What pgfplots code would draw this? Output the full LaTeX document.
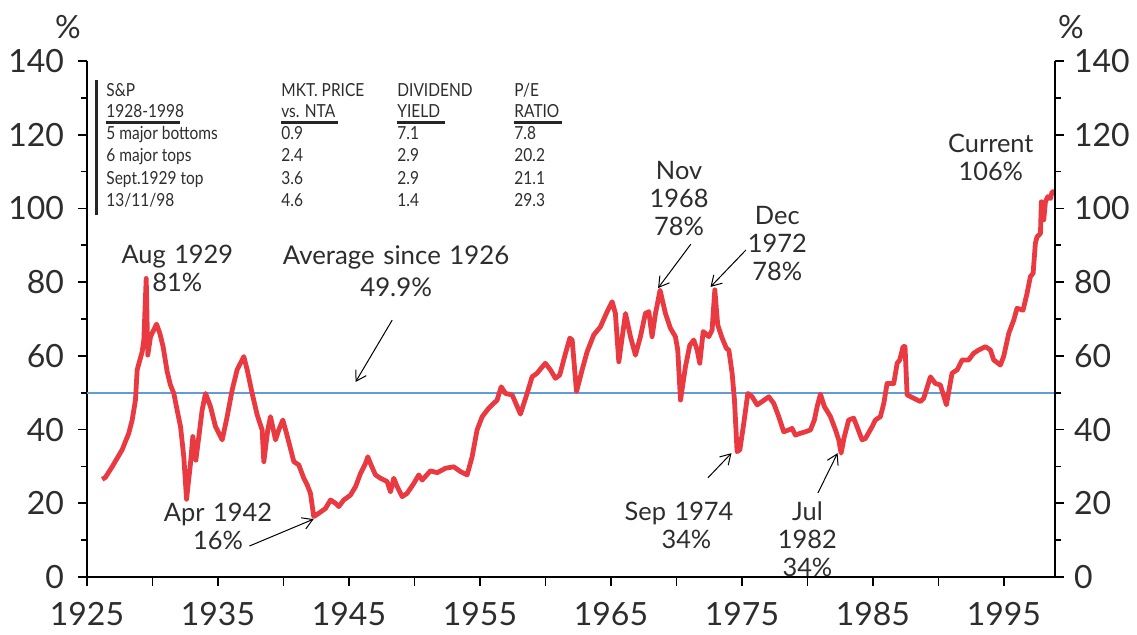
\documentclass[border=0pt]{standalone}
\usepackage{fontspec}
\setmainfont{Lato}
\newfontfamily\tabfont{Lato}[FakeStretch=0.86]
\usepackage{pgfplots}
\usetikzlibrary{arrows.meta}
\pgfplotsset{compat=1.18}
\definecolor{redline}{RGB}{233,58,66}
\definecolor{blueline}{RGB}{98,156,214}
\definecolor{txt}{RGB}{45,45,45}
\newcommand\ticklab{\fontsize{16}{19}\selectfont}
\newcommand\annfont{\fontsize{12.7}{14}\selectfont}
\begin{document}
\begin{tikzpicture}
\begin{axis}[
  at={(0,0)}, anchor=south west,
  scale only axis, width=484pt, height=258pt,
  xmin=1925, xmax=1998.9, ymin=0, ymax=140,
  axis x line*=bottom, axis y line*=left,
  axis line style={line width=1pt, -},
  xtick={1925,1935,...,1995},
  extra x ticks={1930,1940,...,1990}, extra x tick labels={},
  ytick={0,20,...,140}, minor ytick={10,30,...,130},
  tick align=outside, major tick length=4.5pt, minor tick length=3pt,
  every tick/.style={line width=0.9pt, black},
  /pgf/number format/.cd, 1000 sep={}, assume math mode=true, /pgfplots/.cd,
  tick label style={font=\ticklab, text=txt},
  x tick label style={yshift=-4.5pt},
  y tick label style={xshift=-3.5pt},
  clip=false,
]
\addplot[blueline, line width=1pt] coordinates {(1925,49.9) (1998.9,49.9)};
\addplot[redline, line width=2.4pt, line join=round] coordinates {
(1926.16,26.5) (1926.40,27.0) (1926.92,29.9) (1927.68,34.5) (1928.19,39.0) (1928.45,42.6)
(1928.70,48.0) (1928.83,56.2) (1929.21,61.1) (1929.34,64.3) (1929.52,81.0) (1929.64,60.2)
(1929.85,65.2) (1930.31,68.6) (1930.56,66.1) (1930.81,62.5) (1931.12,55.7) (1931.37,52.1)
(1931.63,49.8) (1931.88,45.3) (1932.14,40.8) (1932.39,32.6) (1932.60,21.1) (1932.90,30.8)
(1933.08,38.1) (1933.31,31.7) (1933.54,38.1) (1933.79,45.3) (1934.05,49.8) (1934.43,46.2)
(1934.81,40.8) (1935.32,37.2) (1935.70,43.5) (1936.08,50.7) (1936.46,56.2) (1936.97,59.8)
(1937.23,56.2) (1937.61,49.8) (1937.99,44.0) (1938.37,39.9) (1938.50,31.3) (1938.80,39.9)
(1939.01,43.5) (1939.39,37.2) (1939.64,39.9) (1939.95,42.6) (1940.23,39.0) (1940.53,34.9)
(1940.79,31.3) (1941.17,30.4) (1941.55,26.8) (1941.81,25.0) (1942.06,22.7) (1942.31,16.4)
(1942.70,17.3) (1943.21,18.6) (1943.59,20.9) (1943.97,20.0) (1944.22,19.1) (1944.60,20.9)
(1945.11,22.2) (1945.50,24.5) (1945.88,28.1) (1946.26,30.8) (1946.44,32.6) (1946.64,30.8)
(1947.02,27.7) (1947.40,26.8) (1947.91,25.9) (1948.17,23.1) (1948.42,26.8) (1948.68,24.5)
(1949.06,21.8) (1949.44,22.7) (1949.95,25.4) (1950.33,27.7) (1950.59,26.3) (1951.22,28.8)
(1951.73,28.3) (1952.37,29.5) (1953.00,29.9) (1953.51,28.6) (1954.02,27.7) (1954.40,32.6)
(1954.78,39.9) (1955.17,43.5) (1955.67,45.8) (1956.31,48.0) (1956.62,51.6) (1956.95,49.8)
(1957.46,49.4) (1958.09,44.2) (1958.60,49.8) (1958.98,54.3) (1959.36,55.3) (1959.99,58.0)
(1960.38,56.2) (1960.76,53.9) (1961.09,54.8) (1961.53,60.7) (1961.86,64.8) (1962.04,64.3)
(1962.37,50.3) (1962.80,56.2) (1963.18,61.1) (1963.69,65.7) (1964.20,67.9) (1964.71,72.0)
(1965.09,74.7) (1965.34,71.5) (1965.60,58.4) (1966.11,71.5) (1966.49,65.2) (1966.87,60.2)
(1967.25,65.2) (1967.63,71.5) (1967.89,72.0) (1968.14,65.2) (1968.40,71.5) (1968.75,77.8)
(1969.16,71.5) (1969.54,67.5) (1969.92,65.2) (1970.10,61.6) (1970.31,48.0) (1970.69,57.1)
(1971.02,62.9) (1971.32,64.3) (1971.58,61.6) (1971.78,58.0) (1972.04,66.6) (1972.21,66.1)
(1972.47,65.2) (1972.72,67.0) (1972.93,77.9) (1973.15,68.4) (1973.49,64.8) (1973.82,62.0)
(1974.00,61.6) (1974.25,55.3) (1974.43,48.0) (1974.63,34.0) (1974.84,34.5) (1975.14,41.7)
(1975.45,49.8) (1975.78,48.9) (1976.16,46.7) (1976.54,47.6) (1977.05,48.9) (1977.43,47.1)
(1977.81,43.5) (1978.19,39.4) (1978.57,39.9) (1978.83,40.3) (1979.08,38.5) (1979.47,39.0)
(1979.85,39.4) (1980.23,39.9) (1980.53,42.6) (1980.74,46.2) (1980.99,49.6) (1981.30,46.2)
(1981.76,43.5) (1982.14,39.9) (1982.39,37.2) (1982.57,33.6) (1982.82,38.1) (1983.15,42.6)
(1983.53,43.1) (1983.84,40.3) (1984.17,37.2) (1984.43,37.6) (1984.94,40.8) (1985.19,42.6)
(1985.57,43.5) (1985.83,47.1) (1986.08,52.5) (1986.59,52.5) (1986.85,58.0) (1987.05,58.9)
(1987.30,62.5) (1987.45,62.5) (1987.61,49.4) (1988.11,48.5) (1988.63,47.6) (1988.88,48.5)
(1989.39,54.3) (1989.77,52.5) (1990.15,52.1) (1990.61,46.7) (1991.04,55.3) (1991.43,56.2)
(1991.81,58.9) (1992.31,58.9) (1992.69,60.7) (1993.08,61.6) (1993.59,62.5) (1993.97,61.6)
(1994.22,58.9) (1994.73,57.5) (1994.98,59.8) (1995.37,66.1) (1995.75,69.7) (1996.00,72.9)
(1996.46,72.4) (1996.77,77.0) (1997.02,81.5) (1997.23,82.4) (1997.40,90.5) (1997.53,92.3)
(1997.79,93.2) (1997.86,101.8) (1998.04,96.9) (1998.17,101.8) (1998.35,103.2) (1998.55,102.7)
(1998.68,104.5) (1998.85,104.5)
};
% annotations
\begin{scope}[every node/.style={font=\annfont, text=txt, align=center, inner sep=0pt}]
\node[text width=80pt, align=center] at (axis cs:1931.9,83.6) {Aug 1929\\81\%};
\node[text width=140pt, align=center, font=\fontsize{12.9}{16}\selectfont] at (axis cs:1948.6,83.0) {Average since 1926\\49.9\%};
\node[text width=80pt] at (axis cs:1935.0,13.8) {Apr 1942\\16\%};
\node[text width=60pt] at (axis cs:1970.2,102.6) {Nov\\1968\\78\%};
\node[text width=60pt] at (axis cs:1977.7,90.6) {Dec\\1972\\78\%};
\node[text width=80pt] at (axis cs:1970.2,14.1) {Sep 1974\\\phantom{0}34\%};
\node[text width=60pt] at (axis cs:1980.0,10.3) {Jul\\1982\\34\%};
\node[text width=70pt] at (axis cs:1994.0,113.9) {Current\\106\%};
\end{scope}
\begin{scope}[->, >={Straight Barb[length=5pt,width=6pt]}, line width=0.5pt, black]
\draw (axis cs:1948.3,69.7) -- (axis cs:1945.5,52.9);
\draw (axis cs:1937.4,8.4) -- (axis cs:1942.3,15.7);
\draw (axis cs:1971.1,90.3) -- (axis cs:1968.6,78.4);
\draw (axis cs:1975.3,88.7) -- (axis cs:1972.6,78.7);
\draw (axis cs:1972.4,26.9) -- (axis cs:1974.2,33.6);
\draw (axis cs:1980.8,22.8) -- (axis cs:1982.3,33.6);
\end{scope}
\end{axis}
\begin{axis}[
  at={(0,0)}, anchor=south west,
  scale only axis, width=484pt, height=258pt,
  xmin=1925, xmax=1998.9, ymin=0, ymax=140,
  axis x line=none, axis y line*=right,
  axis line style={line width=1pt, -},
  ytick={0,20,...,140}, minor ytick={10,30,...,130},
  tick align=outside, major tick length=4.5pt, minor tick length=3pt,
  every tick/.style={line width=0.9pt, black},
  /pgf/number format/.cd, assume math mode=true, /pgfplots/.cd,
  tick label style={font=\ticklab, text=txt},
  y tick label style={xshift=1.5pt},
]
\addplot[draw=none] coordinates {(1925,0)};
\end{axis}
% percent signs
\node[font=\ticklab, text=txt] at (-9.5pt,275pt) {\%};
\node[font=\ticklab, text=txt] at (492pt,275pt) {\%};
% table
\draw[line width=1.5pt, black!85] (5pt,248.5pt) -- (5pt,181pt);
\begin{scope}[every node/.style={font=\tabfont\fontsize{9}{10}\selectfont, text=txt, anchor=west, inner sep=0pt, text height=6.5pt, text depth=1.5pt}]
\node at (9.5pt,242.5pt) {S\&P};
\node at (9.5pt,232pt) {1928-1998};
\node at (9.5pt,221pt) {5 major bottoms};
\node at (9.5pt,210pt) {6 major tops};
\node at (9.5pt,198.5pt) {Sept.1929 top};
\node at (9.5pt,187.5pt) {13/11/98};
\node at (97pt,242.5pt) {MKT. PRICE};
\node at (97pt,232pt) {vs. NTA};
\node at (97pt,221pt) {0.9};
\node at (97pt,210pt) {2.4};
\node at (97pt,198.5pt) {3.6};
\node at (97pt,187.5pt) {4.6};
\node at (155pt,242.5pt) {DIVIDEND};
\node at (155pt,232pt) {YIELD};
\node at (155pt,221pt) {7.1};
\node at (155pt,210pt) {2.9};
\node at (155pt,198.5pt) {2.9};
\node at (155pt,187.5pt) {1.4};
\node at (213.5pt,242.5pt) {P/E};
\node at (213.5pt,232pt) {RATIO};
\node at (213.5pt,221pt) {7.8};
\node at (213.5pt,210pt) {20.2};
\node at (213.5pt,198.5pt) {21.1};
\node at (213.5pt,187.5pt) {29.3};
\end{scope}
\begin{scope}[line width=1.5pt, black!85]
\draw (9.5pt,227pt) -- (46.5pt,227pt);
\draw (97pt,227pt) -- (125.5pt,227pt);
\draw (155pt,227pt) -- (179pt,227pt);
\draw (213.5pt,227pt) -- (237.5pt,227pt);
\end{scope}
\pgfresetboundingbox
\useasboundingbox (-43.5pt,-29pt) rectangle (525pt,288.5pt);
\end{tikzpicture}
\end{document}
